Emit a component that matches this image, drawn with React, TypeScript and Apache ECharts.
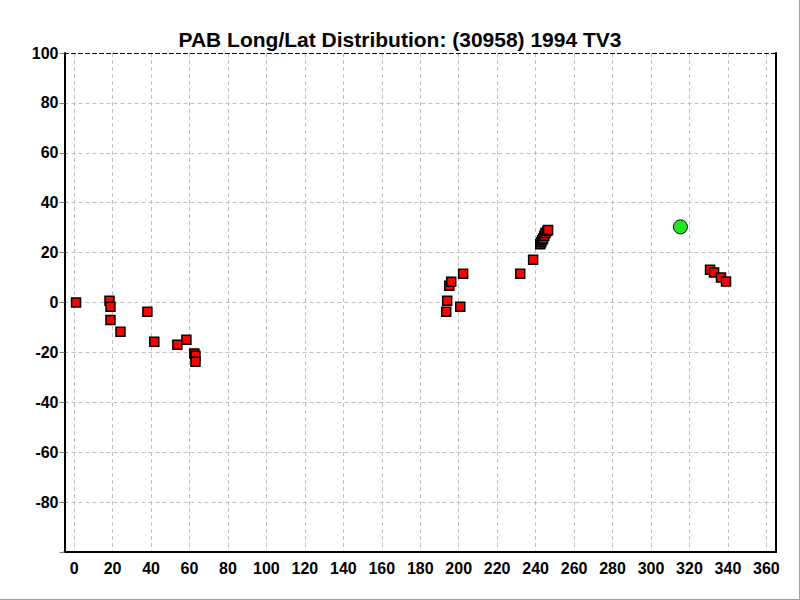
import React, { useEffect, useRef } from "react";
import * as echarts from "echarts";

const TITLE = "PAB Long/Lat Distribution: (30958) 1994 TV3";
const xTicks = [0, 20, 40, 60, 80, 100, 120, 140, 160, 180, 200, 220, 240, 260, 280, 300, 320, 340, 360];
const longitudes = [1, 18.4, 18.9, 18.9, 24.1, 38.1, 41.7, 53.7, 58.4, 62.5, 63.1, 63.1,
  193.5, 194.0, 200.8, 195.1, 196.1, 202.3, 232.0, 238.7, 242.4, 242.9, 243.4, 243.9, 244.5, 245.1, 246.0, 246.5,
  330.7, 332.8, 336.4, 339.0];
const latitudes = [0, 0.7, -1.7, -7.0, -11.7, -3.7, -15.7, -16.9, -14.9, -20.4, -21.3, -23.7,
  -3.7, 0.7, -1.7, 6.7, 8.3, 11.5, 11.5, 17.1, 23.3, 24.1, 24.9, 25.7, 26.8, 27.9, 28.7, 29.1,
  13.1, 12.0, 10.0, 8.4];
const currentLong = [315.3];
const currentLat = [30.3];

export default function App() {
  const ref = useRef<HTMLDivElement>(null);
  useEffect(() => {
    if (!ref.current) return;
    const chart = echarts.init(ref.current, null, { renderer: "svg" });
    const font = "Liberation Sans, Arial, sans-serif";
    const grid = "#c0c0c0";
    chart.setOption({
      animation: false,
      backgroundColor: "#ffffff",
      title: {
        text: TITLE,
        left: "center",
        top: 24,
        textStyle: { fontFamily: font, fontSize: 21, fontWeight: "bold", color: "#000" },
      },
      grid: { left: 64.5, right: 24, top: 53, bottom: 48, containLabel: false },
      xAxis: [
        {
          type: "value",
          min: -5,
          max: 365,
          position: "bottom",
          axisLine: { show: true, onZero: false, lineStyle: { color: "#000", width: 2 } },
          axisTick: { show: false, customValues: xTicks },
          axisLabel: {
            customValues: xTicks,
            color: "#000",
            fontFamily: font,
            fontSize: 16,
            fontWeight: "bold",
            margin: 8,
          },
          splitLine: { show: true, lineStyle: { color: grid, type: [4, 3], width: 1 } },
        },
        {
          type: "value",
          min: -5,
          max: 365,
          position: "top",
          axisLine: { show: true, onZero: false, lineStyle: { color: "#000", width: 1, type: [4, 3] } },
          axisTick: { show: false },
          axisLabel: { show: false },
          splitLine: { show: false },
        },
      ],
      yAxis: [
        {
          type: "value",
          min: -100,
          max: 100,
          interval: 20,
          position: "left",
          axisLine: { show: true, onZero: false, lineStyle: { color: "#000", width: 2 } },
          axisTick: { show: true, length: 5, lineStyle: { color: "#808080" } },
          axisLabel: {
            color: "#000",
            fontFamily: font,
            fontSize: 16,
            fontWeight: "bold",
            margin: 6,
            formatter: (v: number) => (v === -100 ? "" : String(v)),
          },
          splitLine: { show: true, lineStyle: { color: grid, type: [4, 3], width: 1 } },
        },
        {
          type: "value",
          min: -100,
          max: 100,
          position: "right",
          axisLine: { show: true, onZero: false, lineStyle: { color: "#000", width: 2 } },
          axisTick: { show: false },
          axisLabel: { show: false },
          splitLine: { show: false },
        },
      ],
      graphic: [
        { type: "line", shape: { x1: 799.5, y1: 0, x2: 799.5, y2: 600 }, style: { stroke: "#a0a0a0", lineWidth: 1 } },
        { type: "line", shape: { x1: 0, y1: 599.5, x2: 800, y2: 599.5 }, style: { stroke: "#a0a0a0", lineWidth: 1 } },
      ],
      series: [
        {
          type: "scatter",
          xAxisIndex: 0,
          yAxisIndex: 0,
          symbol: "rect",
          symbolSize: 9,
          data: longitudes.map((x, i) => [x, latitudes[i]]),
          itemStyle: { color: "#ff0000", borderColor: "#000", borderWidth: 1.5, opacity: 1 },
        },
        {
          type: "scatter",
          xAxisIndex: 0,
          yAxisIndex: 0,
          symbol: "circle",
          symbolSize: 14,
          data: currentLong.map((x, i) => [x, currentLat[i]]),
          itemStyle: { color: "#22e622", borderColor: "#000", borderWidth: 1, opacity: 1 },
        },
      ],
    });
    return () => chart.dispose();
  }, []);
  return (
    <div
      ref={ref}
      style={{ position: "fixed", left: 0, top: 0, width: 800, height: 600 }}
    />
  );
}
